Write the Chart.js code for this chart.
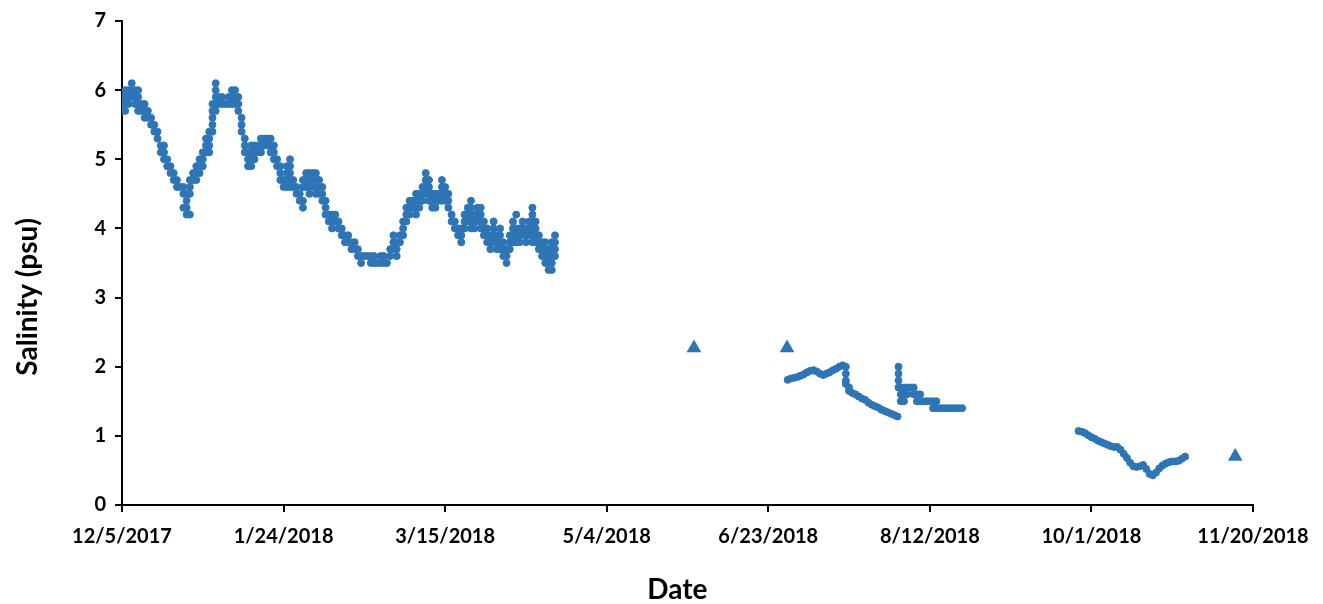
<!DOCTYPE html>
<html>
<head>
<meta charset="utf-8">
<script src="https://cdn.jsdelivr.net/npm/chart.js@4.4.1/dist/chart.umd.min.js"></script>
<style>
  html, body { margin: 0; padding: 0; background: #ffffff; }
  #wrap { width: 1323px; height: 604px; }
</style>
</head>
<body>
<div id="wrap"><canvas id="c" width="1323" height="604"></canvas></div>
<script>
// x values are days since 12/5/2017
const xTickLabels = ['12/5/2017','1/24/2018','3/15/2018','5/4/2018','6/23/2018','8/12/2018','10/1/2018','11/20/2018'];
const yTickLabels = ['0','1','2','3','4','5','6','7'];
const xTitle = 'Date';
const yTitle = 'Salinity (psu)';

// Segment 1: Dec 2017 – Apr 2018 (readings at 0.1 psu resolution)
const seg1Day = [0,1,2,3,4,5,6,7,8,9,10,11,12,13,14,15,16,17,18,19,20,21,22,23,24,25,26,27,28,29,
  30,31,32,33,34,35,36,37,38,39,40,41,42,43,44,45,46,47,48,49,50,51,52,53,54,55,56,57,58,59,
  60,61,62,63,64,65,66,67,68,69,70,71,72,73,74,75,76,77,78,79,80,81,82,83,84,85,86,87,88,89,
  90,91,92,93,94,95,96,97,98,99,100,101,102,103,104,105,106,107,108,109,110,111,112,113,114,
  115,116,117,118,119,120,121,122,123,124,125,126,127,128,129,130,131,132,133,134];
const seg1Sal = [
  [5.7,5.8,5.9],[5.7,5.8,5.9,6.0],[5.8,5.9,6.0],[5.9,6.0,6.1],[5.8,5.9,6.0],[5.7,5.8,5.9,6.0],
  [5.7,5.8],[5.6,5.7,5.8],[5.6,5.7],[5.5,5.6],[5.4,5.5],[5.3,5.4],[5.1,5.2],[5.0,5.1,5.2],
  [4.9,5.0],[4.8,4.9],[4.7,4.8],[4.6,4.7],[4.6],[4.3,4.5,4.6],[4.2,4.3,4.4,4.5],[4.2,4.5,4.6,4.7],
  [4.7,4.8],[4.7,4.8,4.9],[4.8,4.9,5.0],[4.9,5.0,5.1],[5.1,5.2,5.3],[5.1,5.2,5.3,5.4],
  [5.4,5.5,5.6,5.7,5.8],[5.7,5.8,5.9,6.0,6.1],[5.8,5.9],[5.8,5.9],[5.8],[5.8,5.9],[5.8,5.9,6.0],
  [5.8,5.9,6.0],[5.7,5.8,5.9],[5.4,5.5,5.6],[5.1,5.2,5.3],[4.9,5.0,5.1],[4.9,5.0,5.1,5.2],
  [5.0,5.1,5.2],[5.1,5.2],[5.1,5.2,5.3],[5.2,5.3],[5.2,5.3],[5.1,5.2,5.3],[5.0,5.1,5.2],[4.9,5.0],
  [4.7,4.8,4.9],[4.6,4.7],[4.6,4.7,4.8,4.9],[4.6,4.7,4.8,4.9,5.0],[4.6,4.7],[4.5,4.6],[4.4,4.5],
  [4.3,4.4,4.6,4.7],[4.6,4.7,4.8],[4.5,4.6,4.7,4.8],[4.6,4.7,4.8],[4.5,4.6,4.7,4.8],[4.5,4.6,4.7],
  [4.4,4.5,4.6],[4.2,4.3,4.4],[4.1,4.2],[4.0,4.1,4.2],[4.1,4.2],[4.0,4.1],[3.9,4.0],[3.8,3.9],
  [3.8,3.9],[3.7,3.8],[3.7,3.8],[3.6,3.7],[3.5,3.6],[3.6],[3.6],[3.5,3.6],[3.5,3.6],[3.5],
  [3.5,3.6],[3.5,3.6],[3.5],[3.6,3.7],[3.7,3.8,3.9],[3.6,3.7,3.8],[3.8,3.9],[3.9,4.0,4.1],
  [4.1,4.2,4.3],[4.2,4.3,4.4],[4.3,4.4],[4.2,4.3,4.4,4.5],[4.3,4.4,4.5],[4.4,4.5,4.6],
  [4.5,4.6,4.7,4.8],[4.4,4.5,4.6,4.7],[4.3,4.4,4.5],[4.3,4.4,4.5],[4.4,4.5],[4.4,4.5,4.6,4.7],
  [4.4,4.5,4.6],[4.3,4.4,4.5],[4.1,4.2],[4.0,4.1],[3.9,4.0],[3.8,3.9,4.0],[4.0,4.1,4.2],
  [4.1,4.2,4.3],[4.0,4.1,4.2,4.3,4.4],[4.0,4.1,4.2],[4.1,4.2,4.3],[4.0,4.1,4.2,4.3],[3.9,4.0,4.1],
  [3.8,3.9,4.0],[3.7,3.8,3.9],[3.8,3.9,4.0,4.1],[3.7,3.8,3.9],[3.7,3.8,3.9,4.0],[3.6,3.7,3.8],
  [3.5,3.6,3.7],[3.7,3.8,3.9],[3.8,3.9,4.0,4.1],[3.8,3.9,4.0,4.2],[3.8,3.9,4.0],[3.9,4.0,4.1],
  [3.8,3.9,4.0],[3.9,4.0,4.1],[3.8,3.9,4.0,4.1,4.2,4.3],[3.8,3.9,4.0,4.1],[3.7,3.8,3.9],
  [3.6,3.7,3.8],[3.5,3.6,3.7,3.8],[3.4,3.5,3.6,3.7],[3.4,3.5,3.6,3.7,3.8],[3.6,3.7,3.8,3.9]
];

// Segment 2a: late Jun – early Aug 2018
const seg2aDay = [206,207,208,209,210,211,212,213,214,215,216,217,218,219,220,221,222,223,224,225,
  226,227,228,229,230,231,232,233,234,235,236,237,238,239,240];
const seg2aSal = [[1.81],[1.83],[1.84],[1.85],[1.87],[1.89],[1.92],[1.94],[1.95],[1.93],[1.90],[1.88],
  [1.90],[1.92],[1.95],[1.97],[2.00],[2.02],[2.0,1.9,1.8,1.75],[1.70,1.65],[1.62],[1.60],[1.57],
  [1.54],[1.52],[1.48],[1.45],[1.43],[1.41],[1.38],[1.36],[1.34],[1.32],[1.30],[1.28]];

// Segment 2b: Aug 2018 (0.1 psu resolution)
const seg2bDay = [240.3,241,242,243,244,245,246,247,248,249,250,251,252,253,254,255,256,257,258,259,260];
const seg2bSal = [[2.0,1.9,1.8,1.7],[1.7,1.6,1.5],[1.7,1.6,1.5],[1.7,1.6],[1.7],[1.6,1.7],[1.6,1.5],
  [1.6,1.5],[1.5],[1.5],[1.5],[1.5,1.4],[1.4,1.5],[1.4],[1.4],[1.4],[1.4],[1.4],[1.4],[1.4],[1.4]];

// Segment 3: Sep – Oct 2018
const seg3Day = [296,297,298,299,300,301,302,303,304,305,306,307,308,309,310,311,312,313,314,315,
  316,317,318,319,320,321,322,323,324,325,326,327,328,329];
const seg3Sal = [[1.07],[1.06],[1.04],[1.01],[0.98],[0.96],[0.93],[0.91],[0.89],[0.87],[0.85],[0.84],
  [0.84],[0.80],[0.74],[0.68],[0.61],[0.56],[0.55],[0.56],[0.58],[0.52],[0.45],[0.43],[0.47],[0.53],
  [0.57],[0.60],[0.62],[0.63],[0.63],[0.64],[0.67],[0.70]];

// Discrete grab samples (triangles)
const triDay = [177, 205.8, 344.5];
const triSal = [2.27, 2.27, 0.70];

function flatten(days, vals) {
  const out = [];
  days.forEach((d, i) => vals[i].forEach(v => out.push({x: d, y: v})));
  return out;
}
const sondePoints = [].concat(
  flatten(seg1Day, seg1Sal), flatten(seg2aDay, seg2aSal),
  flatten(seg2bDay, seg2bSal), flatten(seg3Day, seg3Sal));
const grabPoints = triDay.map((d, i) => ({x: d, y: triSal[i]}));

const BLUE = '#2E75B6';
const FONT = 'Lato, "Open Sans", sans-serif';

// Axis titles, placed as in the original (slightly offset from the plot centre)
const axisTitles = {
  id: 'axisTitles',
  afterDraw(chart) {
    const {ctx, chartArea: a} = chart;
    ctx.save();
    ctx.fillStyle = '#000';
    ctx.font = 'bold 28px ' + FONT;
    ctx.textAlign = 'center';
    ctx.textBaseline = 'middle';
    ctx.fillText(xTitle, a.left + (a.right - a.left) * 0.491, a.bottom + 85);
    ctx.translate(28, a.top + (a.bottom - a.top) * 0.57);
    ctx.rotate(-Math.PI / 2);
    ctx.fillText(yTitle, 0, 0);
    ctx.restore();
  }
};

new Chart(document.getElementById('c'), {
  type: 'scatter',
  data: {
    datasets: [
      { data: sondePoints, pointStyle: 'circle', pointRadius: 3.5, pointBorderWidth: 1,
        backgroundColor: BLUE, borderColor: BLUE, pointHoverRadius: 3.5 },
      { data: grabPoints, pointStyle: 'triangle', pointRadius: 8.5, pointBorderWidth: 0,
        backgroundColor: BLUE, borderColor: BLUE, pointHoverRadius: 8.5 }
    ]
  },
  plugins: [axisTitles],
  options: {
    responsive: false,
    animation: false,
    events: [],
    layout: { padding: { left: 0, right: 70, top: 20, bottom: 0 } },
    plugins: { legend: { display: false }, tooltip: { enabled: false } },
    scales: {
      x: {
        type: 'linear', min: 0, max: 350,
        afterFit: s => { s.height = 99; },
        afterBuildTicks: s => { s.ticks = xTickLabels.map((_, i) => ({value: i * 50})); },
        ticks: { callback: (v) => xTickLabels[Math.round(v / 50)], color: '#000', padding: 13,
                 maxRotation: 0, autoSkip: false, font: { family: FONT, size: 20, weight: 'bold' } },
        grid: { display: true, drawOnChartArea: false, drawTicks: true, tickLength: 7, color: '#000', lineWidth: 2 },
        border: { display: true, color: '#000', width: 2 },
        title: { display: false, text: xTitle }
      },
      y: {
        type: 'linear', min: 0, max: 7,
        afterFit: s => { s.width = 122; },
        afterBuildTicks: s => { s.ticks = yTickLabels.map((_, i) => ({value: i})); },
        ticks: { callback: (v) => yTickLabels[v], color: '#000', padding: 9,
                 font: { family: FONT, size: 20, weight: 'bold' } },
        grid: { display: true, drawOnChartArea: false, drawTicks: true, tickLength: 7, color: '#000', lineWidth: 2 },
        border: { display: true, color: '#000', width: 2 },
        title: { display: false, text: yTitle }
      }
    }
  }
});
</script>
</body>
</html>
